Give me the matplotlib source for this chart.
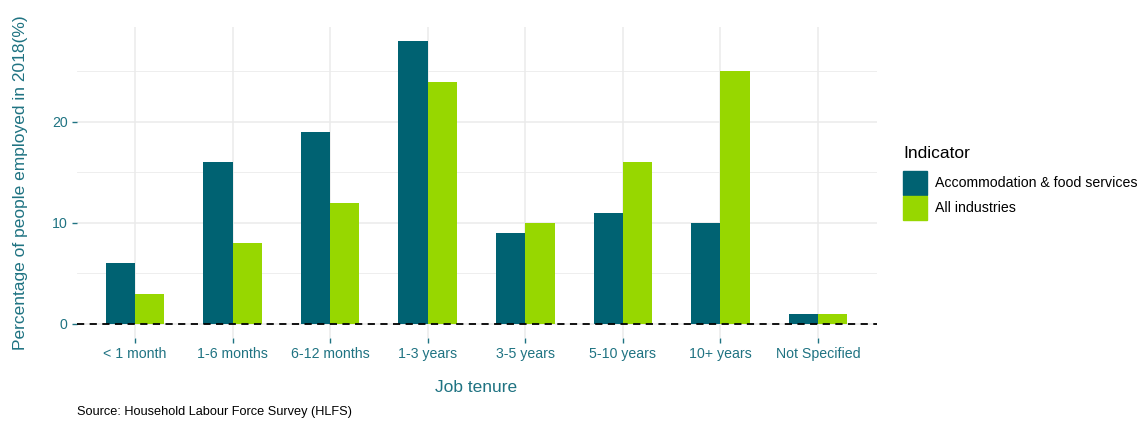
import matplotlib.pyplot as plt
from matplotlib.patches import Rectangle
import numpy as np

plt.rcParams['font.family'] = ['Liberation Sans', 'DejaVu Sans']

# Données
categories = ["< 1 month", "1-6 months", "6-12 months", "1-3 years",
              "3-5 years", "5-10 years", "10+ years", "Not Specified"]
accommodation = [6, 16, 19, 28, 9, 11, 10, 1]
all_industries = [3, 8, 12, 24, 10, 16, 25, 1]
series_names = ["Accommodation & food services", "All industries"]

dark_teal = '#006272'
green = '#97d700'
text_teal = '#1f7382'
grid_col = '#ebebeb'

W, H = 1142, 421
fig = plt.figure(figsize=(W / 100, H / 100), dpi=100)
ax = fig.add_axes([76.5 / W, 1 - 338 / H, 800 / W, 311 / H])

x = np.arange(len(categories))
w = 0.3
ax.bar(x - w / 2, accommodation, width=w, color=dark_teal, zorder=2)
ax.bar(x + w / 2, all_industries, width=w, color=green, zorder=2)

# ligne pointillée à zéro
ax.axhline(0, color='black', linestyle=(0, (4, 3)), linewidth=1.3, zorder=3)

ax.set_xlim(-0.6, len(categories) - 0.4)
ax.set_ylim(-1.4, 29.4)

ax.set_yticks([0, 10, 20])
ax.set_yticks([5, 15, 25], minor=True)
ax.set_xticks(x)
ax.set_xticklabels(categories)

ax.grid(True, which='major', color=grid_col, linewidth=1.1, zorder=0)
ax.grid(True, which='minor', axis='y', color=grid_col, linewidth=0.6, zorder=0)
ax.set_axisbelow(True)

for s in ax.spines.values():
    s.set_visible(False)

ax.tick_params(axis='both', which='major', colors=text_teal, labelcolor=text_teal,
               labelsize=10.2, length=3.5, width=1.0, pad=3)
ax.tick_params(axis='y', which='minor', length=0)

ax.set_xlabel("Job tenure", color=text_teal, fontsize=12.5, labelpad=14)
ax.set_ylabel("Percentage of people employed in 2018(%)", color=text_teal, fontsize=12.5, labelpad=17)

fig.text(77 / W, 1 - 412 / H, "Source: Household Labour Force Survey (HLFS)",
         fontsize=9.2, color='black', va='center', ha='left')

# Légende dessinée à la main (façon ggplot)
fig.text(903 / W, 1 - 153 / H, "Indicator", fontsize=12.5, color='black', va='center', ha='left')
for i, (name, col) in enumerate(zip(series_names, [dark_teal, green])):
    top = 171 + i * 25
    fig.patches.append(Rectangle((903 / W, 1 - (top + 24) / H), 24 / W, 24 / H,
                                 transform=fig.transFigure, color=col))
    fig.text(935 / W, 1 - (top + 12) / H, name, fontsize=10.2, color='black',
             va='center', ha='left')

fig.savefig("out.png", dpi=100)
